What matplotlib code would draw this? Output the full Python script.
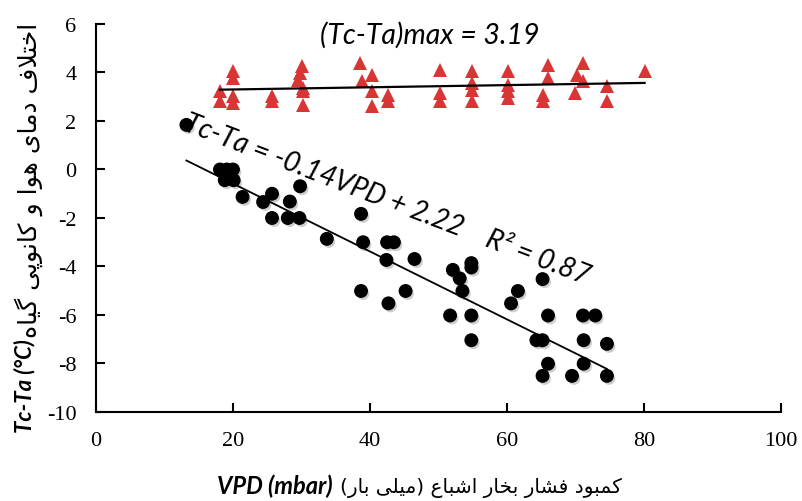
import matplotlib
matplotlib.use("Agg")
import matplotlib.pyplot as plt
import matplotlib.patheffects as pe
from matplotlib import font_manager
import numpy as np

# well-watered upper baseline (red triangles)
red_vpd = [18.1, 18.1, 20.0, 20.0, 20.0, 20.0, 25.7, 25.7, 30.1, 29.8, 29.5, 30.2,
           30.2, 30.2, 38.5, 38.8, 40.3, 40.3, 40.3, 42.6, 42.6, 50.2, 50.2, 50.2,
           54.9, 54.9, 54.9, 54.9, 60.1, 60.1, 60.1, 60.1, 66.0, 66.0, 65.3, 65.3,
           71.1, 70.2, 71.1, 70.0, 74.6, 74.6, 80.1]
red_dt = [3.24, 2.82, 4.07, 3.78, 3.03, 2.74, 3.03, 2.82, 4.27, 3.98, 3.69, 3.36,
          3.24, 2.66, 4.40, 3.65, 3.90, 3.24, 2.61, 3.07, 2.82, 4.11, 3.15, 2.82,
          4.07, 3.57, 3.28, 2.82, 4.07, 3.49, 3.24, 2.95, 4.32, 3.78, 3.07, 2.82,
          4.40, 3.90, 3.65, 3.15, 3.44, 2.82, 4.07]

# lower baseline (black dots)
blk_vpd = [13.2, 18.1, 19.1, 20.0, 18.8, 20.1, 21.4, 24.4, 25.7, 28.3, 29.8, 25.7,
           28.0, 29.7, 33.7, 38.7, 39.0, 42.5, 43.5, 42.4, 46.5, 38.7, 42.7, 45.2,
           52.1, 53.1, 54.8, 54.8, 53.5, 51.7, 54.8, 54.8, 61.6, 60.6, 65.2, 66.0,
           64.3, 65.2, 66.0, 65.2, 71.1, 72.9, 71.2, 74.6, 71.2, 69.5, 74.6]
blk_dt = [1.84, 0.00, 0.00, 0.00, -0.44, -0.44, -1.13, -1.34, -1.00, -1.32, -0.69, -2.00,
          -2.00, -2.00, -2.86, -1.83, -3.00, -3.00, -3.00, -3.73, -3.69, -5.01, -5.52, -5.01,
          -4.14, -4.49, -3.86, -4.04, -5.01, -6.02, -6.02, -7.04, -5.01, -5.52, -4.52, -6.02,
          -7.04, -7.04, -8.01, -8.51, -6.02, -6.02, -7.04, -7.19, -8.01, -8.51, -8.51]

# trend lines
blk_slope, blk_icpt, blk_r2 = -0.14, 2.22, 0.87
red_slope, red_icpt = 0.0045, 3.21
dt_max = 3.19

x_ticks = [0, 20, 40, 60, 80, 100]
y_ticks = [6, 4, 2, 0, -2, -4, -6, -8, -10]

FORMS = {
    'ا': ('\ufe8d', '\ufe8e', None, None),
    'ب': ('\ufe8f', '\ufe90', '\ufe91', '\ufe92'),
    'پ': ('\ufb56', '\ufb57', '\ufb58', '\ufb59'),
    'ت': ('\ufe95', '\ufe96', '\ufe97', '\ufe98'),
    'خ': ('\ufea5', '\ufea6', '\ufea7', '\ufea8'),
    'د': ('\ufea9', '\ufeaa', None, None),
    'ر': ('\ufead', '\ufeae', None, None),
    'ش': ('\ufeb5', '\ufeb6', '\ufeb7', '\ufeb8'),
    'ع': ('\ufec9', '\ufeca', '\ufecb', '\ufecc'),
    'ف': ('\ufed1', '\ufed2', '\ufed3', '\ufed4'),
    'ک': ('\ufb8e', '\ufb8f', '\ufb90', '\ufb91'),
    'گ': ('\ufb92', '\ufb93', '\ufb94', '\ufb95'),
    'ل': ('\ufedd', '\ufede', '\ufedf', '\ufee0'),
    'م': ('\ufee1', '\ufee2', '\ufee3', '\ufee4'),
    'ن': ('\ufee5', '\ufee6', '\ufee7', '\ufee8'),
    'ه': ('\ufee9', '\ufeea', '\ufeeb', '\ufeec'),
    'و': ('\ufeed', '\ufeee', None, None),
    'ی': ('\ufbfc', '\ufbfd', '\ufbfe', '\ufbff'),
}
LAM_ALEF = ('\ufefb', '\ufefc', None, None)


def shape_rtl(text):
    # join letters into their contextual forms, then lay out right-to-left
    units, i = [], 0
    while i < len(text):
        if text[i] == 'ل' and text[i + 1:i + 2] == 'ا':
            units.append(LAM_ALEF)
            i += 2
        else:
            units.append(FORMS.get(text[i], text[i]))
            i += 1
    out = []
    for k, u in enumerate(units):
        if isinstance(u, str):
            out.append(u)
            continue
        prev = units[k - 1] if k > 0 else None
        nxt = units[k + 1] if k + 1 < len(units) else None
        jp = isinstance(prev, tuple) and prev[2] is not None
        jn = isinstance(nxt, tuple) and u[2] is not None
        out.append(u[3] if jp and jn else u[1] if jp else u[2] if jn else u[0])
    mirror = {'(': ')', ')': '('}
    return ''.join(mirror.get(c, c) for c in reversed(out))


# Times-like digits for the tick labels
serif_path = font_manager.findfont(font_manager.FontProperties(family=['Liberation Serif', 'DejaVu Serif']))
serif = font_manager.FontProperties(fname=serif_path, size=16)

fig = plt.figure(figsize=(8.02, 5.02), dpi=100)
ax = fig.add_axes([0.1197, 0.1773, 0.854, 0.7729])

shadow = [pe.SimplePatchShadow(offset=(1.5, -2), shadow_rgbFace='0.45', alpha=0.35), pe.Normal()]
ax.plot(blk_vpd, blk_dt, 'o', color='black', markersize=9, path_effects=shadow, zorder=3)
ax.plot(red_vpd, red_dt, '^', color='#D93535', markersize=9.5, markeredgewidth=0, zorder=3)

xb = np.array([min(blk_vpd), max(blk_vpd)])
ax.plot(xb, blk_slope * xb + blk_icpt, color='black', lw=1.3, zorder=4)
xr = np.array([min(red_vpd), max(red_vpd)])
ax.plot(xr, red_slope * xr + red_icpt, color='black', lw=1.6, zorder=4)

ax.set_xlim(0, 100)
ax.set_ylim(-10, 6)
ax.set_xticks(x_ticks, labels=[str(v) for v in x_ticks], fontproperties=serif)
ax.set_yticks(y_ticks, labels=[str(v) for v in y_ticks], fontproperties=serif)
for s in ['top', 'right']:
    ax.spines[s].set_visible(False)
for s in ['left', 'bottom']:
    ax.spines[s].set_linewidth(1.5)
ax.tick_params(direction='in', length=6.5, width=1.5, pad=14)

cal = 'Lato'
ax.text(48.8, 5.56, f'(Tc-Ta)max = {dt_max}', fontsize=20.5, fontstyle='italic',
        fontfamily=cal, ha='center', va='center')
ax.text(12.6, 1.65, f'Tc-Ta = {blk_slope}VPD + {blk_icpt}    R² = {blk_r2}',
        fontsize=20, fontstyle='italic', fontfamily=cal, rotation=-21,
        rotation_mode='anchor', ha='left', va='baseline', zorder=5)

# axis titles: English part followed by Persian part
fa_x = shape_rtl('کمبود فشار بخار اشباع (میلی بار)')
fa_y = shape_rtl('اختلاف دمای هوا و کانوپی گیاه')

tx = fig.text(217 / 802, 8 / 502, 'VPD (mbar)', fontsize=17, fontweight='bold',
              fontstyle='italic', fontfamily=cal, ha='left', va='baseline')
ax.annotate(fa_x, xy=(1, 0), xycoords=tx, xytext=(5, 0), textcoords='offset points',
            fontsize=14.5, fontfamily='DejaVu Sans', ha='left', va='bottom',
            annotation_clip=False)

ty = fig.text(14 / 802, (502 - 433) / 502, 'Tc-Ta (°C)', fontsize=16, fontweight='bold',
              fontstyle='italic', fontfamily=cal, rotation=90, ha='left', va='bottom')
ax.annotate(fa_y, xy=(0, 1), xycoords=ty, xytext=(0, 1), textcoords='offset points',
            fontsize=18, fontfamily='DejaVu Sans', rotation=90, ha='left', va='bottom',
            annotation_clip=False)

fig.savefig('out.png', dpi=100)
